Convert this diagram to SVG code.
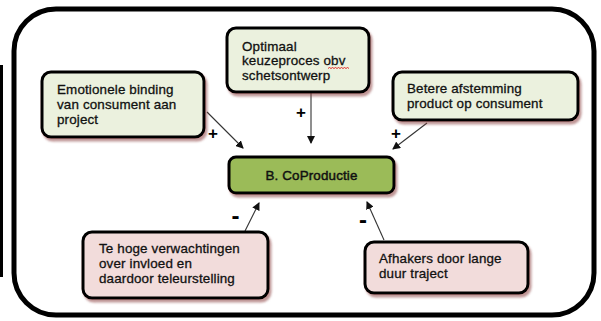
<svg xmlns="http://www.w3.org/2000/svg" width="601" height="321" viewBox="0 0 601 321">
<style>
.box{stroke:#000;stroke-width:3}
.g{fill:#EBF1DE}
.p{fill:#F2DCDB}
.c{fill:#9BBB59}
.t{font-family:"Liberation Sans",Arial,sans-serif;font-size:13.4px;letter-spacing:0.15px;fill:#111;stroke:#111;stroke-width:0.3}
.s{font-family:"Liberation Sans",Arial,sans-serif;font-size:17px;font-weight:bold;fill:#000}
.m{font-family:"Liberation Sans",Arial,sans-serif;font-size:24px;font-weight:bold;fill:#000}
.ln{stroke:#333;stroke-width:1.1;fill:none}
</style>
<defs>
<filter id="sh" x="-10%" y="-10%" width="130%" height="140%">
<feDropShadow dx="2" dy="3" stdDeviation="1" flood-color="#8a3c3c" flood-opacity="0.55"/>
</filter>
<marker id="ah" markerWidth="8" markerHeight="8" refX="7" refY="4" orient="auto" markerUnits="userSpaceOnUse">
<path d="M0,0 L8,4 L0,8 Z" fill="#111"/>
</marker>
</defs>
<rect width="601" height="321" fill="#fff"/>
<line x1="1.5" y1="65" x2="1.5" y2="277" stroke="#000" stroke-width="3"/>
<rect x="14" y="9" width="580" height="306" rx="42" ry="42" fill="#fff" stroke="#000" stroke-width="5"/>
<g id="connectors">
<line class="ln" x1="207" y1="112" x2="243" y2="148" marker-end="url(#ah)"/>
<line class="ln" x1="311" y1="92" x2="311" y2="143" marker-end="url(#ah)"/>
<line class="ln" x1="427" y1="123" x2="393" y2="149" marker-end="url(#ah)"/>
<line class="ln" x1="245" y1="231" x2="259" y2="203" marker-end="url(#ah)"/>
<line class="ln" x1="384" y1="240" x2="367" y2="202" marker-end="url(#ah)"/>
<text class="s" x="213" y="139" text-anchor="middle">+</text>
<text class="s" x="301" y="118" text-anchor="middle">+</text>
<text class="s" x="396" y="139" text-anchor="middle">+</text>
<text class="m" x="235.5" y="224" text-anchor="middle">-</text>
<text class="m" x="363" y="228" text-anchor="middle">-</text>
</g>
<g id="n1">
<rect class="box g" x="42" y="72" width="162" height="65" rx="9" filter="url(#sh)"/>
<text class="t" x="57" y="94">Emotionele binding</text>
<text class="t" x="57" y="109">van consument aan</text>
<text class="t" x="57" y="124">project</text>
</g>
<g id="n2">
<rect class="box g" x="227" y="28" width="142" height="64" rx="9" filter="url(#sh)"/>
<text class="t" x="242" y="51">Optimaal</text>
<text class="t" x="242" y="65">keuzeproces obv</text>
<text class="t" x="242" y="80">schetsontwerp</text>
<path d="M328,68.5 l1.5,-1 l1.5,1 l1.5,-1 l1.5,1 l1.5,-1 l1.5,1 l1.5,-1 l1.5,1 l1.5,-1 l1.5,1 l1.5,-1 l1.5,1 l1.5,-1 l1.5,1" fill="none" stroke="#d00" stroke-width="0.8"/>
</g>
<g id="n3">
<rect class="box g" x="393" y="72" width="185" height="48" rx="9" filter="url(#sh)"/>
<text class="t" x="407" y="93">Betere afstemming</text>
<text class="t" x="407" y="108">product op consument</text>
</g>
<g id="center">
<rect class="box c" x="229" y="157" width="165" height="36" rx="7" filter="url(#sh)"/>
<text class="t" x="311.5" y="180" text-anchor="middle" style="stroke-width:0.45">B. CoProductie</text>
</g>
<g id="n4">
<rect class="box p" x="83" y="232" width="185" height="66" rx="9" filter="url(#sh)"/>
<text class="t" x="99" y="253">Te hoge verwachtingen</text>
<text class="t" x="99" y="268">over invloed en</text>
<text class="t" x="99" y="283">daardoor teleurstelling</text>
</g>
<g id="n5">
<rect class="box p" x="365" y="242" width="163" height="51" rx="9" filter="url(#sh)"/>
<text class="t" x="379" y="263">Afhakers door lange</text>
<text class="t" x="379" y="278">duur traject</text>
</g>
</svg>
